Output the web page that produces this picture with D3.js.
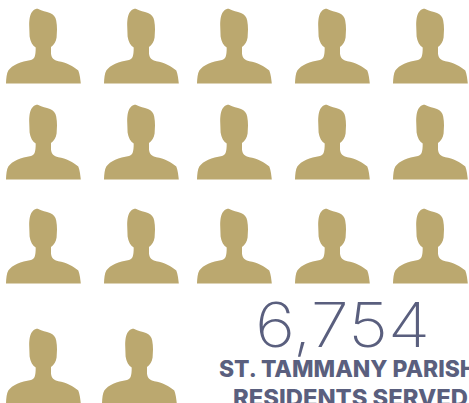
<!DOCTYPE html>
<html>
<head>
<meta charset="utf-8">
<script src="https://cdn.jsdelivr.net/npm/d3@7"></script>
<style>
  html, body { margin: 0; padding: 0; background: #fff; overflow: hidden; }
  svg { display: block; }
</style>
</head>
<body>
<div id="chart"></div>
<script>
// data
const rowNames = ["r1", "r2", "r3", "r4"];
const iconsPerRow = [5, 5, 5, 2];
const totalLabel = "6,754";
const labelLines = ["ST. TAMMANY PARISH", "RESIDENTS SERVED"];

const WIDTH = 469, HEIGHT = 403;
const GOLD = "#bba86f", SLATE = "#5a5f7e";

const svg = d3.select("#chart").append("svg")
  .attr("width", WIDTH)
  .attr("height", HEIGHT);

// the icons are not spaced quite evenly in the original so ordinal scales it is
const xScale = d3.scaleOrdinal().domain([0, 1, 2, 3, 4]).range([6, 104, 197, 295, 393]);
const xLastRow = d3.scaleOrdinal().domain([0, 1]).range([6, 102]);
const yScale = d3.scaleOrdinal().domain(rowNames).range([83.5, 179.5, 283.5, 403.5]);

// person silhouette, drawn with bottom left corner at 0,0
const personPath = "M0,0 C0.2,-5 0.6,-10 2.3,-13 C6,-18.5 15,-22 25,-23.6 C28.5,-24.6 29.7,-27 29.7,-36 " +
  "C26.5,-38 24.3,-42 23.6,-47 L23.2,-58 C23.2,-64.5 24,-70 27,-72.8 C28.5,-74.2 30.5,-74.8 32.3,-74.6 " +
  "C36,-72.8 40,-71.8 44,-70.6 C47.5,-69.5 49.6,-66.5 50.2,-63 C50.8,-60 51,-57 51,-54 " +
  "L50.6,-46 C50,-42 48,-38.5 45,-36.5 L45,-30 " +
  "C45.3,-25.5 48,-23.2 52.3,-22.3 C60,-21 67.5,-17.5 72.3,-13 C73.8,-9 74.3,-4.5 74.8,0 Z";

const icons = rowNames.flatMap((row, r) =>
  d3.range(iconsPerRow[r]).map(i => ({ row, i })));

svg.selectAll("path.person")
  .data(icons)
  .enter()
  .append("path")
  .attr("class", "person")
  .attr("d", personPath)
  .attr("fill", GOLD)
  .attr("transform", d => {
    const x = d.row === "r4" ? xLastRow(d.i) : xScale(d.i);
    return `translate(${x},${yScale(d.row)})`;
  });

svg.append("text")
  .attr("x", 255)
  .attr("y", 347)
  .attr("font-family", "Inter, sans-serif")
  .attr("font-weight", 200)
  .attr("font-size", 62)
  .attr("textLength", 175)
  .attr("lengthAdjust", "spacingAndGlyphs")
  .attr("fill", SLATE)
  .text(totalLabel);

// wider than any installed bold face, so stretch them to the measured length
const labelX = [219, 233];
const labelLength = [258, 235];

svg.selectAll("text.label")
  .data(labelLines)
  .enter()
  .append("text")
  .attr("class", "label")
  .attr("x", (d, i) => labelX[i])
  .attr("y", (d, i) => 377 + i * 29)
  .attr("font-family", "Inter, sans-serif")
  .attr("font-weight", 800)
  .attr("font-size", 22.5)
  .attr("textLength", (d, i) => labelLength[i])
  .attr("lengthAdjust", "spacingAndGlyphs")
  .attr("fill", SLATE)
  .text(d => d);
</script>
</body>
</html>
